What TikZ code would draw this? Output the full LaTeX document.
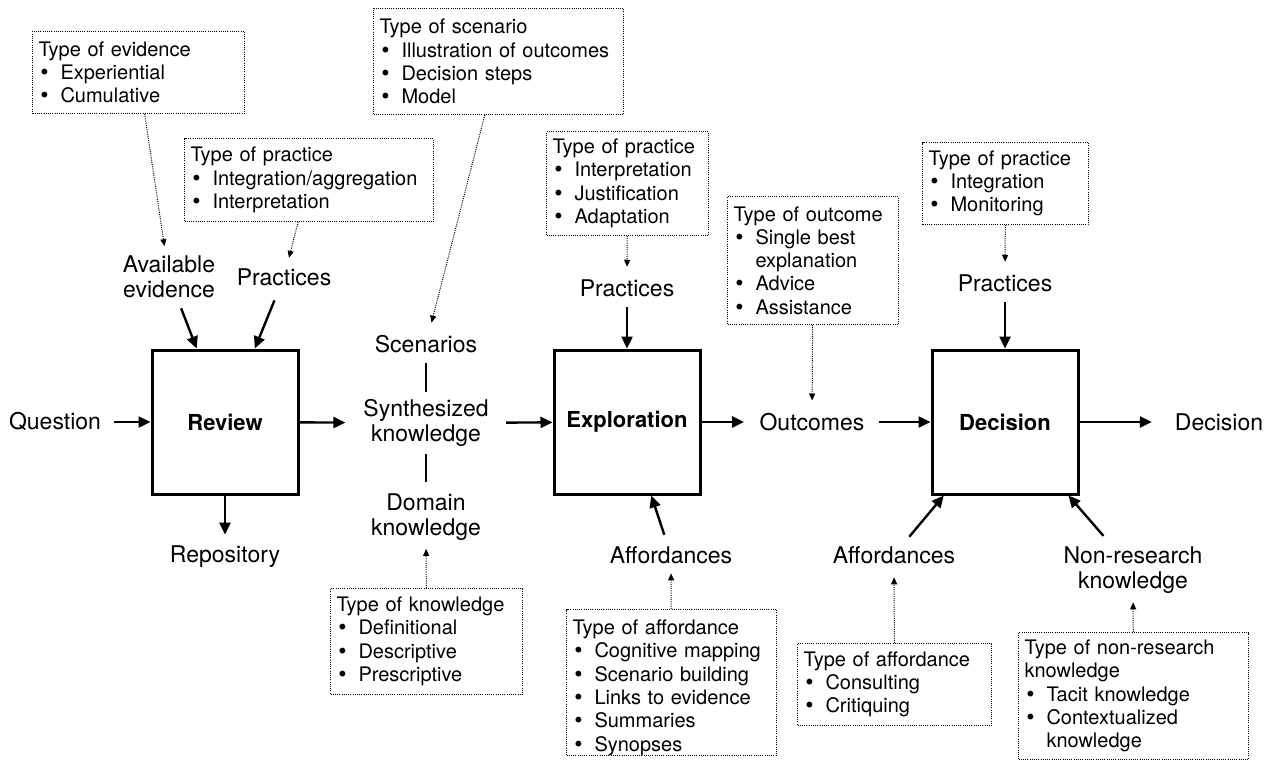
\documentclass[tikz,border=0pt]{standalone}
\usepackage{fontspec}
\setmainfont{TeX Gyre Heros}
\newfontfamily\bulletfont{DejaVu Sans}
\usetikzlibrary{arrows.meta}
\newcommand{\itm}{\makebox[22pt][l]{{\bulletfont •}}}
\newcommand{\ind}{\hspace*{22pt}}
\begin{document}
\begin{tikzpicture}[x=1pt,y=-1pt,
  lbl/.style={inner sep=0pt, outer sep=0pt, align=center, font=\fontsize{23}{25.5}\selectfont},
  proc/.style={draw, line width=3pt, minimum width=146pt, minimum height=144pt, inner sep=0pt, font=\fontsize{22}{26}\selectfont\bfseries},
  dbox/.style={draw, line width=1pt, dash pattern=on 1pt off 1.2pt, anchor=north west, inner xsep=6pt, inner ysep=0pt, align=left, font=\fontsize{20}{23.3}\selectfont},
  arr/.style={line width=2.4pt, -{Triangle[length=12pt,width=11pt]}},
  darr/.style={line width=1pt, dash pattern=on 1pt off 1.2pt, -{Triangle[length=7pt,width=6pt]}},
  link/.style={line width=1.4pt}]
\useasboundingbox (0,0) rectangle (1274,760);
\fill[white] (0,0) rectangle (1274,760);

% process boxes
\node[proc] (rev) at (225,422) {Review};
\node[proc] (exp) at (627,422) {Exploration};
\node[proc] (dec) at (1005,422) {Decision};

% labels
\node[lbl] (q) at (55,422) {Question};
\node[lbl] (avail) at (169,277) {Available\\evidence};
\node[lbl] (pr1) at (284,277) {Practices};
\node[lbl] (repo) at (225,557) {Repository};
\node[lbl] (scen) at (426,344) {Scenarios};
\node[lbl] (synth) at (426,423) {Synthesized\\knowledge};
\node[lbl] (dom) at (426,517) {Domain\\knowledge};
\node[lbl] (pr2) at (627,288) {Practices};
\node[lbl] (aff1) at (671,555) {Affordances};
\node[lbl] (outc) at (812,422) {Outcomes};
\node[lbl] (pr3) at (1005,283) {Practices};
\node[lbl] (aff2) at (894,555) {Affordances};
\node[lbl] (nonres) at (1133,570) {Non-research\\knowledge};
\node[lbl] (declbl) at (1219,422) {Decision};

% dotted boxes
\node[dbox, text width=200pt, minimum height=82pt] (b1) at (32,31)
  {Type of evidence\\\itm Experiential\\\itm Cumulative};
\node[dbox, text width=237pt, minimum height=83pt] (b2) at (184,138)
  {Type of practice\\\itm Integration/aggregation\\\itm Interpretation};
\node[dbox, text width=238pt, minimum height=106pt] (b3) at (373,8)
  {Type of scenario\\\itm Illustration of outcomes\\\itm Decision steps\\\itm Model};
\node[dbox, text width=150pt, minimum height=104pt] (b4) at (546,131)
  {Type of practice\\\itm Interpretation\\\itm Justification\\\itm Adaptation};
\node[dbox, text width=159pt, minimum height=128pt] (b5) at (727,196)
  {Type of outcome\\\itm Single best\\\ind explanation\\\itm Advice\\\itm Assistance};
\node[dbox, text width=154pt, minimum height=82pt] (b6) at (922,142)
  {Type of practice\\\itm Integration\\\itm Monitoring};
\node[dbox, text width=180pt, minimum height=106pt] (b7) at (330,588)
  {Type of knowledge\\\itm Definitional\\\itm Descriptive\\\itm Prescriptive};
\node[dbox, text width=198pt] (b8) at (566,609)
  {\rule{0pt}{25pt}Type of affordance\\\itm Cognitive mapping\\\itm Scenario building\\\itm Links to evidence\\\itm Summaries\\\itm Synopses\par\vspace{30pt}};
\node[dbox, text width=182pt, minimum height=82pt] (b9) at (797,643)
  {Type of affordance\\\itm Consulting\\\itm Critiquing};
\node[dbox, text width=218pt, minimum height=127pt] (b10) at (1018,632)
  {Type of non-research\\knowledge\\\itm Tacit knowledge\\\itm Contextualized\\\ind knowledge};

% main flow
\draw[arr, shorten <=13pt] (q) -- (rev);
\draw[arr, shorten >=18pt] (rev) -- (synth);
\draw[arr, shorten <=17.5pt] (synth) -- (exp);
\draw[arr, shorten >=15.5pt] (exp) -- (outc);
\draw[arr, shorten <=14.5pt] (outc) -- (dec);
\draw[arr, shorten >=23pt] (dec) -- (declbl);
\draw[arr, shorten <=10.7pt] (avail) -- (rev);
\draw[arr, shorten <=16pt] (pr1) -- (rev);
\draw[arr, shorten >=11.5pt] (rev) -- (repo);
\draw[arr, shorten <=10.7pt] (pr2) -- (exp);
\draw[arr, shorten <=10.7pt] (pr3) -- (dec);
\draw[arr, shorten <=12.3pt] (aff1) -- (exp);
\draw[arr, shorten <=12.6pt] (aff2) -- (dec);
\draw[arr, shorten <=13.9pt] (nonres) -- (dec);
\draw[link, shorten <=9.7pt, shorten >=7.6pt] (scen) -- (synth);
\draw[link, shorten <=7.6pt, shorten >=11.5pt] (synth) -- (dom);

% dotted connectors
\draw[darr, shorten >=9.6pt] (b1) -- (avail);
\draw[darr, shorten >=11pt] (b2) -- (pr1);
\draw[darr, shorten >=13pt] (b3) -- (scen);
\draw[darr, shorten >=12.7pt] (b4) -- (pr2);
\draw[darr, shorten >=12.7pt] (b5) -- (outc);
\draw[darr, shorten >=12.7pt] (b6) -- (pr3);
\draw[darr, shorten >=8.2pt] (b7) -- (dom);
\draw[darr, shorten >=9.7pt] (b8) -- (aff1);
\draw[darr, shorten >=13.7pt] (b9) -- (aff2);
\draw[darr, shorten >=8.7pt] (b10) -- (nonres);
\end{tikzpicture}
\end{document}
